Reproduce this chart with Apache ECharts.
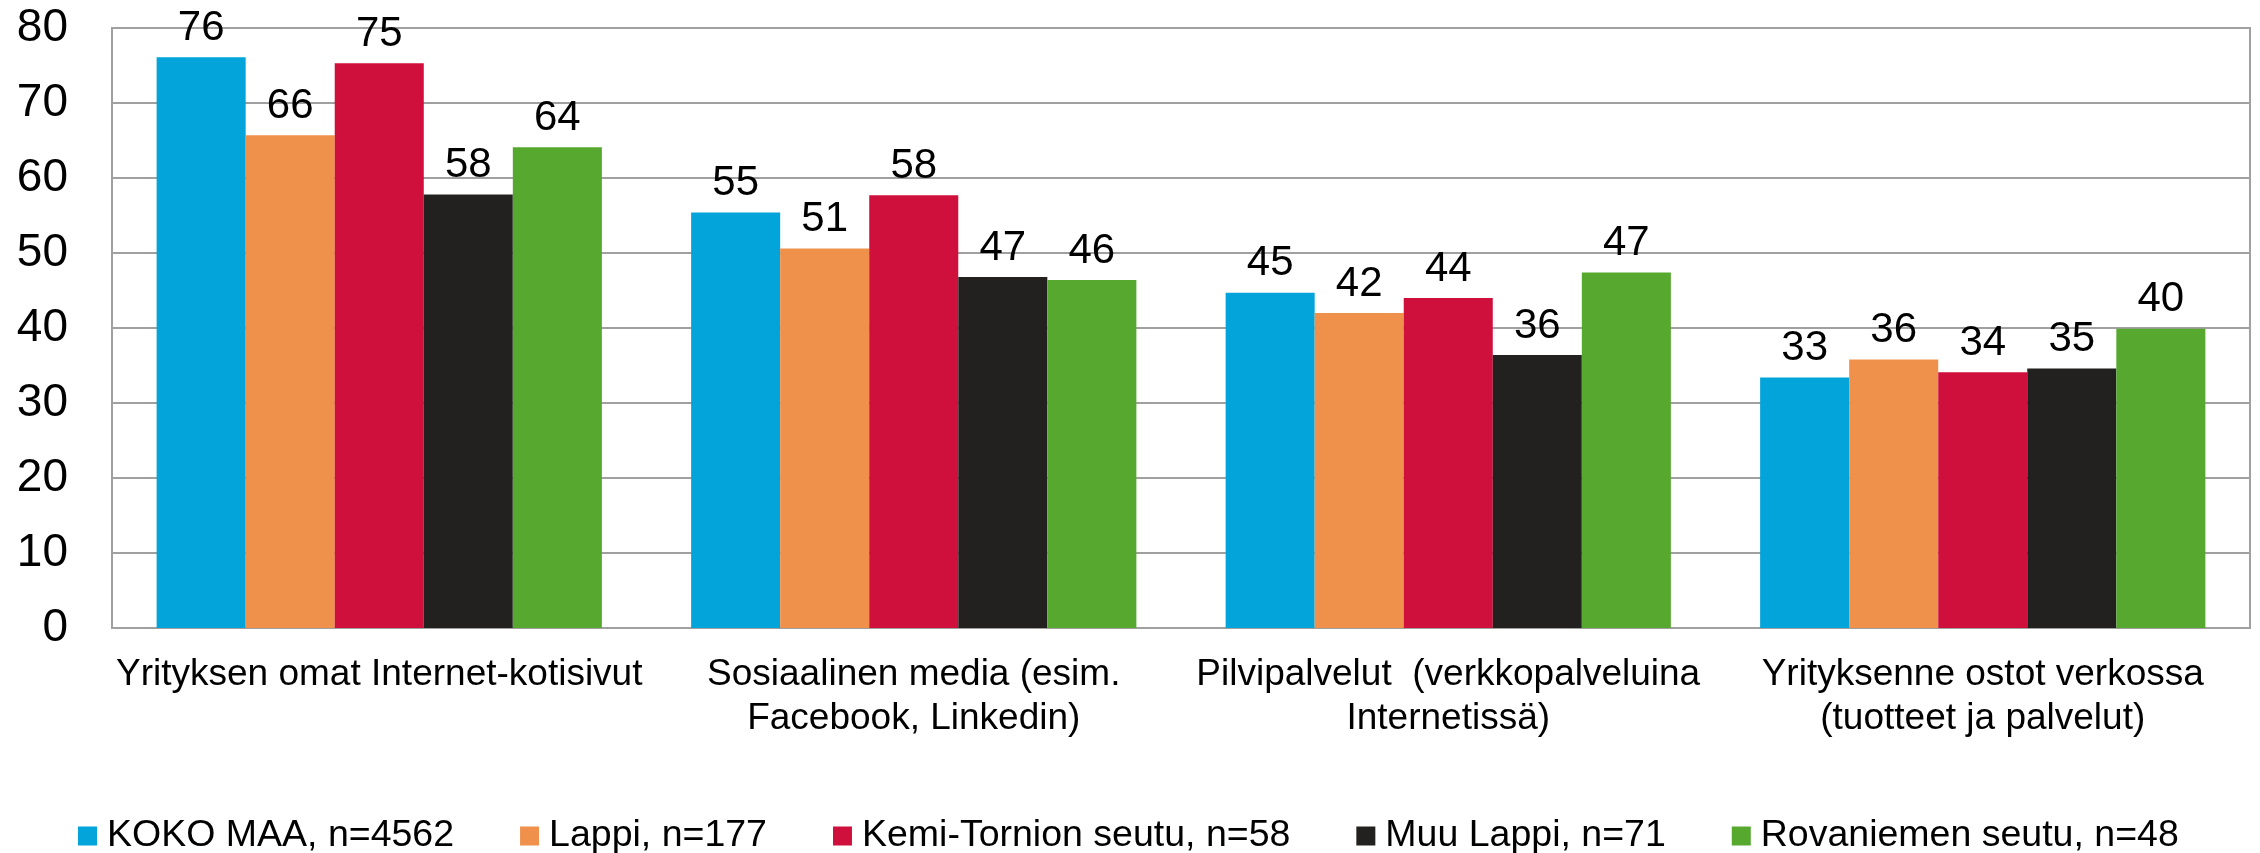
<!DOCTYPE html>
<html>
<head>
<meta charset="utf-8">
<script src="https://cdn.jsdelivr.net/npm/echarts@6/dist/echarts.min.js"></script>
<style>html,body{margin:0;padding:0;background:#fff}#c{width:2260px;height:853px}</style>
</head>
<body>
<div id="c"></div>
<script>
const categories = [
  "Yrityksen omat Internet-kotisivut",
  "Sosiaalinen media (esim.\nFacebook, Linkedin)",
  "Pilvipalvelut  (verkkopalveluina\nInternetissä)",
  "Yrityksenne ostot verkossa\n(tuotteet ja palvelut)"
];
const seriesNames = ["KOKO MAA, n=4562", "Lappi, n=177", "Kemi-Tornion seutu, n=58", "Muu Lappi, n=71", "Rovaniemen seutu, n=48"];
const kokoMaa   = [76.1, 55.4, 44.7, 33.4];
const lappi     = [65.7, 50.6, 42.0, 35.8];
const kemi      = [75.3, 57.7, 44.0, 34.1];
const muuLappi  = [57.8, 46.8, 36.4, 34.6];
const rovaniemi = [64.1, 46.4, 47.4, 39.9];
const colors = ["#02A4D9", "#F0914B", "#CF103C", "#222120", "#56A82E"];
const yTicks = [0, 10, 20, 30, 40, 50, 60, 70, 80];

const values = [kokoMaa, lappi, kemi, muuLappi, rovaniemi];
const font = "'Liberation Sans', Arial, sans-serif";

const chart = echarts.init(document.getElementById('c'));
chart.setOption({
  animation: false,
  backgroundColor: '#fff',
  grid: { left: 112, right: 10, top: 28, bottom: 225, show: true, borderColor: '#a0a0a0', borderWidth: 2, backgroundColor: 'transparent' },
  legend: {
    left: 78, top: 817, padding: 0,
    itemWidth: 19, itemHeight: 19, itemGap: 66,
    icon: 'rect',
    textStyle: { fontFamily: font, fontSize: 37.5, color: '#000', padding: [0, 0, 0, 5] },
    data: seriesNames
  },
  xAxis: {
    type: 'category',
    data: categories,
    axisLine: { lineStyle: { color: '#a0a0a0', width: 2 } },
    axisTick: { show: false },
    axisLabel: { fontFamily: font, fontSize: 37, color: '#000', lineHeight: 44, margin: 25, interval: 0, align: 'center' }
  },
  yAxis: {
    type: 'value', min: yTicks[0], max: yTicks[yTicks.length - 1], interval: 10,
    axisLine: { show: true, lineStyle: { color: '#a0a0a0', width: 2 } },
    axisTick: { show: false },
    splitLine: { lineStyle: { color: '#a0a0a0', width: 2 } },
    axisLabel: { fontFamily: font, fontSize: 46, color: '#000', margin: 44 }
  },
  series: seriesNames.map((name, i) => ({
    name: name,
    type: 'bar',
    data: values[i],
    barGap: '0%',
    barCategoryGap: '16.7%',
    itemStyle: { color: colors[i] },
    label: {
      show: true, position: 'top', distance: 8,
      fontFamily: font, fontSize: 42, color: '#000',
      formatter: p => Math.round(p.value)
    }
  }))
});
</script>
</body>
</html>
